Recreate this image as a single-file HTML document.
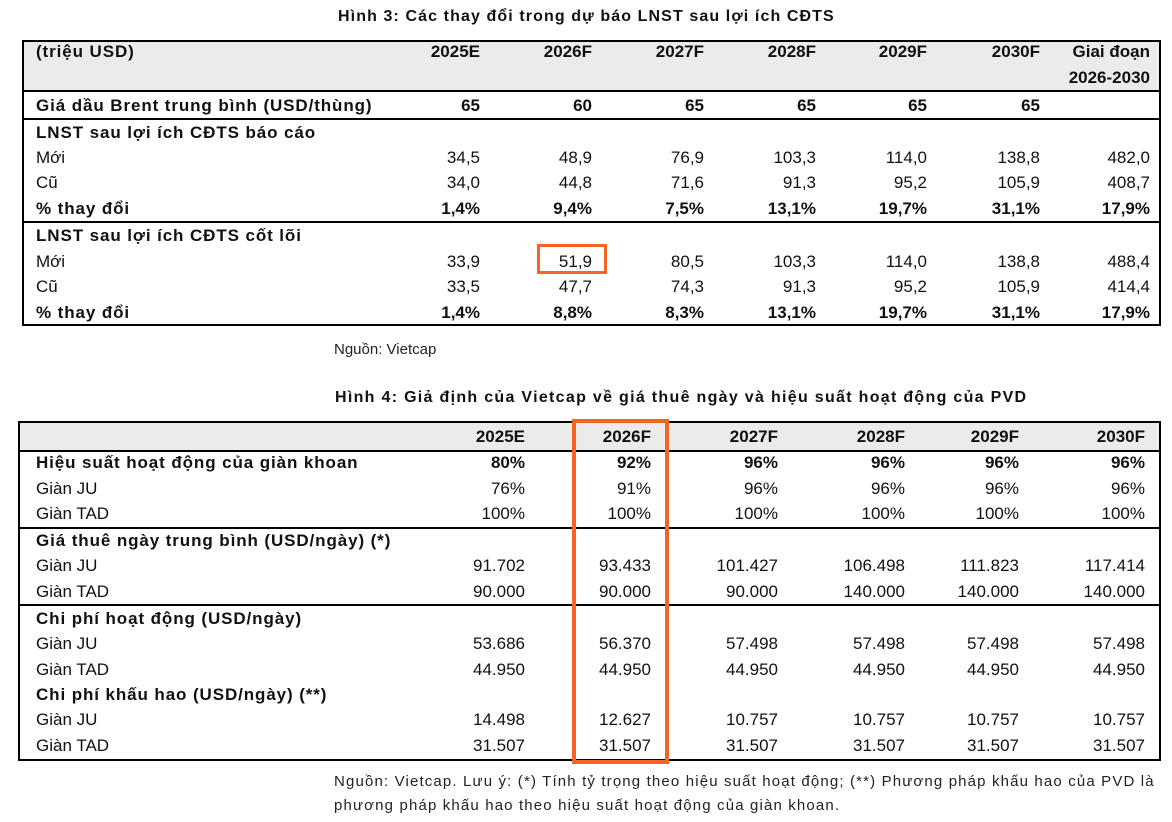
<!DOCTYPE html>
<html><head><meta charset="utf-8"><style>
body{margin:0;width:1172px;height:822px;background:#fff;position:relative;font-family:"Liberation Sans",sans-serif;color:#111;overflow:hidden}
.r{position:absolute;left:0;width:1172px;height:22px;line-height:22px;font-size:17px}
.r span{position:absolute;white-space:nowrap}
.b{font-weight:bold}
.l{left:36px}
.b .l{letter-spacing:0.9px}
.a1{right:692px}.a2{right:580px}.a3{right:468px}.a4{right:356px}.a5{right:245px}.a6{right:132px}.a7{right:22px}
.c1{right:647px}.c2{right:521px}.c3{right:394px}.c4{right:267px}.c5{right:153px}.c6{right:27px}
.h{position:absolute;background:#000}
.g{position:absolute;background:#ebebeb}
.t{position:absolute;font-size:16px;font-weight:bold;white-space:nowrap}
.n{position:absolute;font-size:15px;white-space:nowrap;color:#222}
</style></head><body>
<div class="t" style="left:338px;top:8px;letter-spacing:1.1px">Hình 3: Các thay đổi trong dự báo LNST sau lợi ích CĐTS</div>
<div class="g" style="left:22px;top:41px;width:1138px;height:50px"></div>
<div class="h" style="left:22px;top:40px;width:1139px;height:2px"></div>
<div class="h" style="left:22px;top:90px;width:1139px;height:2px"></div>
<div class="h" style="left:22px;top:118px;width:1139px;height:2px"></div>
<div class="h" style="left:22px;top:221px;width:1139px;height:2px"></div>
<div class="h" style="left:22px;top:324px;width:1139px;height:2px"></div>
<div class="h" style="left:22px;top:40px;width:2px;height:286px"></div>
<div class="h" style="left:1159px;top:40px;width:2px;height:286px"></div>
<div class="r b" style="top:41px"><span class="l">(triệu USD)</span><span class="a1">2025E</span><span class="a2">2026F</span><span class="a3">2027F</span><span class="a4">2028F</span><span class="a5">2029F</span><span class="a6">2030F</span><span class="a7">Giai đoạn</span></div>
<div class="r b" style="top:67px"><span class="a7">2026-2030</span></div>
<div class="r b" style="top:95px"><span class="l">Giá dầu Brent trung bình (USD/thùng)</span><span class="a1">65</span><span class="a2">60</span><span class="a3">65</span><span class="a4">65</span><span class="a5">65</span><span class="a6">65</span></div>
<div class="r b" style="top:122px"><span class="l">LNST sau lợi ích CĐTS báo cáo</span></div>
<div class="r" style="top:147px"><span class="l">Mới</span><span class="a1">34,5</span><span class="a2">48,9</span><span class="a3">76,9</span><span class="a4">103,3</span><span class="a5">114,0</span><span class="a6">138,8</span><span class="a7">482,0</span></div>
<div class="r" style="top:172px"><span class="l">Cũ</span><span class="a1">34,0</span><span class="a2">44,8</span><span class="a3">71,6</span><span class="a4">91,3</span><span class="a5">95,2</span><span class="a6">105,9</span><span class="a7">408,7</span></div>
<div class="r b" style="top:198px"><span class="l">% thay đổi</span><span class="a1">1,4%</span><span class="a2">9,4%</span><span class="a3">7,5%</span><span class="a4">13,1%</span><span class="a5">19,7%</span><span class="a6">31,1%</span><span class="a7">17,9%</span></div>
<div class="r b" style="top:225px"><span class="l">LNST sau lợi ích CĐTS cốt lõi</span></div>
<div class="r" style="top:251px"><span class="l">Mới</span><span class="a1">33,9</span><span class="a2">51,9</span><span class="a3">80,5</span><span class="a4">103,3</span><span class="a5">114,0</span><span class="a6">138,8</span><span class="a7">488,4</span></div>
<div class="r" style="top:276px"><span class="l">Cũ</span><span class="a1">33,5</span><span class="a2">47,7</span><span class="a3">74,3</span><span class="a4">91,3</span><span class="a5">95,2</span><span class="a6">105,9</span><span class="a7">414,4</span></div>
<div class="r b" style="top:302px"><span class="l">% thay đổi</span><span class="a1">1,4%</span><span class="a2">8,8%</span><span class="a3">8,3%</span><span class="a4">13,1%</span><span class="a5">19,7%</span><span class="a6">31,1%</span><span class="a7">17,9%</span></div>
<div style="position:absolute;left:537px;top:244px;width:64px;height:24px;border:3px solid #f26522"></div>
<div class="n" style="left:334px;top:341px">Nguồn: Vietcap</div>

<div class="t" style="left:335px;top:389px;letter-spacing:1.3px">Hình 4: Giả định của Vietcap về giá thuê ngày và hiệu suất hoạt động của PVD</div>
<div class="g" style="left:18px;top:422px;width:1142px;height:29px"></div>
<div class="h" style="left:18px;top:421px;width:1143px;height:2px"></div>
<div class="h" style="left:18px;top:450px;width:1143px;height:2px"></div>
<div class="h" style="left:18px;top:527px;width:1143px;height:2px"></div>
<div class="h" style="left:18px;top:604px;width:1143px;height:2px"></div>
<div class="h" style="left:18px;top:759px;width:1143px;height:2px"></div>
<div class="h" style="left:18px;top:421px;width:2px;height:340px"></div>
<div class="h" style="left:1159px;top:421px;width:2px;height:340px"></div>
<div class="r b" style="top:426px"><span class="c1">2025E</span><span class="c2">2026F</span><span class="c3">2027F</span><span class="c4">2028F</span><span class="c5">2029F</span><span class="c6">2030F</span></div>
<div class="r b" style="top:452px"><span class="l">Hiệu suất hoạt động của giàn khoan</span><span class="c1">80%</span><span class="c2">92%</span><span class="c3">96%</span><span class="c4">96%</span><span class="c5">96%</span><span class="c6">96%</span></div>
<div class="r" style="top:478px"><span class="l">Giàn JU</span><span class="c1">76%</span><span class="c2">91%</span><span class="c3">96%</span><span class="c4">96%</span><span class="c5">96%</span><span class="c6">96%</span></div>
<div class="r" style="top:503px"><span class="l">Giàn TAD</span><span class="c1">100%</span><span class="c2">100%</span><span class="c3">100%</span><span class="c4">100%</span><span class="c5">100%</span><span class="c6">100%</span></div>
<div class="r b" style="top:530px"><span class="l">Giá thuê ngày trung bình (USD/ngày) (*)</span></div>
<div class="r" style="top:555px"><span class="l">Giàn JU</span><span class="c1">91.702</span><span class="c2">93.433</span><span class="c3">101.427</span><span class="c4">106.498</span><span class="c5">111.823</span><span class="c6">117.414</span></div>
<div class="r" style="top:581px"><span class="l">Giàn TAD</span><span class="c1">90.000</span><span class="c2">90.000</span><span class="c3">90.000</span><span class="c4">140.000</span><span class="c5">140.000</span><span class="c6">140.000</span></div>
<div class="r b" style="top:608px"><span class="l">Chi phí hoạt động (USD/ngày)</span></div>
<div class="r" style="top:633px"><span class="l">Giàn JU</span><span class="c1">53.686</span><span class="c2">56.370</span><span class="c3">57.498</span><span class="c4">57.498</span><span class="c5">57.498</span><span class="c6">57.498</span></div>
<div class="r" style="top:659px"><span class="l">Giàn TAD</span><span class="c1">44.950</span><span class="c2">44.950</span><span class="c3">44.950</span><span class="c4">44.950</span><span class="c5">44.950</span><span class="c6">44.950</span></div>
<div class="r b" style="top:684px"><span class="l">Chi phí khấu hao (USD/ngày) (**)</span></div>
<div class="r" style="top:709px"><span class="l">Giàn JU</span><span class="c1">14.498</span><span class="c2">12.627</span><span class="c3">10.757</span><span class="c4">10.757</span><span class="c5">10.757</span><span class="c6">10.757</span></div>
<div class="r" style="top:735px"><span class="l">Giàn TAD</span><span class="c1">31.507</span><span class="c2">31.507</span><span class="c3">31.507</span><span class="c4">31.507</span><span class="c5">31.507</span><span class="c6">31.507</span></div>
<div style="position:absolute;left:572px;top:419px;width:89px;height:337px;border:4px solid #f26522"></div>
<div class="n" style="left:334px;top:773px;letter-spacing:1.15px">Nguồn: Vietcap. Lưu ý: (*) Tính tỷ trọng theo hiệu suất hoạt động; (**) Phương pháp khấu hao của PVD là</div>
<div class="n" style="left:334px;top:797px;letter-spacing:1.15px">phương pháp khấu hao theo hiệu suất hoạt động của giàn khoan.</div>
</body></html>
